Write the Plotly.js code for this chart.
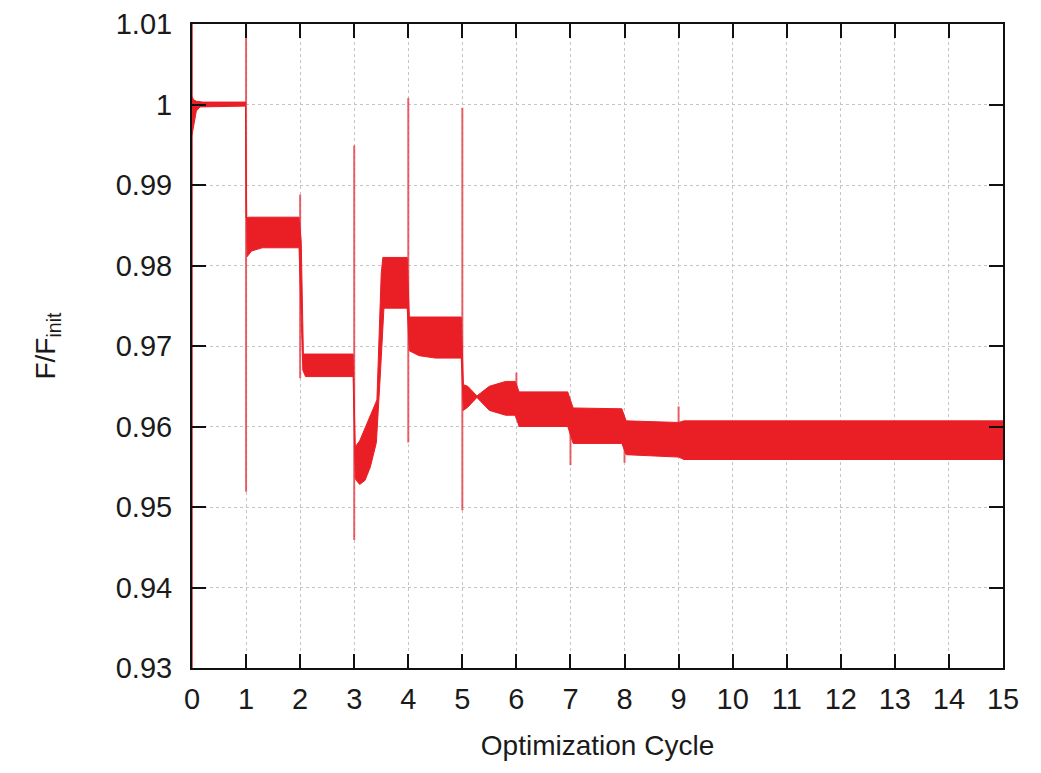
<!DOCTYPE html>
<html>
<head>
<meta charset="utf-8">
<script src="https://cdn.plot.ly/plotly-3.0.1.min.js"></script>
<style>
  html, body { margin: 0; padding: 0; background: #ffffff; }
  #chart { width: 1041px; height: 773px; }
</style>
</head>
<body>
<div id="chart"></div>
<script>
// Upper edge of the oscillation band of F/F_init versus optimization cycle
const upperX = [0.00, 0.03, 0.08, 0.20, 0.99, 1.00, 1.05, 1.98, 2.02, 2.06, 2.98, 3.02, 3.10, 3.20, 3.30, 3.42, 3.50, 3.53, 3.98, 4.02, 4.98, 5.02, 5.10, 5.27, 5.50, 5.80, 5.98, 6.05, 6.95, 7.05, 7.95, 8.03, 9.00, 9.10, 15.00];
const upperY = [1.0010, 1.0006, 1.0004, 1.0003, 1.0003, 0.9859, 0.9860, 0.9860, 0.9830, 0.9690, 0.9690, 0.9575, 0.9582, 0.9598, 0.9612, 0.9633, 0.9790, 0.9810, 0.9810, 0.9736, 0.9736, 0.9652, 0.9650, 0.9638, 0.9650, 0.9656, 0.9656, 0.9643, 0.9643, 0.9623, 0.9622, 0.9607, 0.9605, 0.9607, 0.9607];

// Lower edge of the same band
const lowerX = [0.00, 0.04, 0.08, 0.15, 0.99, 1.02, 1.10, 1.30, 1.98, 2.05, 2.10, 2.98, 3.02, 3.10, 3.20, 3.30, 3.41, 3.48, 3.55, 3.98, 4.02, 4.20, 4.50, 4.98, 5.02, 5.10, 5.27, 5.50, 5.80, 5.98, 6.05, 6.95, 7.05, 7.95, 8.03, 9.00, 9.10, 15.00];
const lowerY = [0.9962, 0.9975, 0.9992, 0.9997, 0.9998, 0.9811, 0.9818, 0.9822, 0.9822, 0.9670, 0.9662, 0.9662, 0.9535, 0.9528, 0.9533, 0.9550, 0.9580, 0.9660, 0.9747, 0.9747, 0.9694, 0.9688, 0.9685, 0.9685, 0.9620, 0.9624, 0.9636, 0.9620, 0.9614, 0.9614, 0.9600, 0.9600, 0.9579, 0.9579, 0.9565, 0.9562, 0.9559, 0.9559];

// Transient spikes at the start of each cycle
const spikeX      = [0, 1, 2, 3, 4, 5, 6, 7, 8, 9];
const spikeTop    = [1.0120, 1.0120, 0.9888, 0.9949, 1.0008, 0.9996, 0.9667, 0.9622, 0.9606, 0.9625];
const spikeBottom = [0.9280, 0.9519, 0.9660, 0.9459, 0.9580, 0.9496, 0.9610, 0.9552, 0.9555, 0.9580];

// Axis ticks
const xTickVals = [0, 1, 2, 3, 4, 5, 6, 7, 8, 9, 10, 11, 12, 13, 14, 15];
const xTickText = ['0', '1', '2', '3', '4', '5', '6', '7', '8', '9', '10', '11', '12', '13', '14', '15'];
const yTickVals = [0.93, 0.94, 0.95, 0.96, 0.97, 0.98, 0.99, 1.00, 1.01];
const yTickText = ['0.93', '0.94', '0.95', '0.96', '0.97', '0.98', '0.99', '1', '1.01'];

// Vertical spike segments joined into one trace, separated by gaps
const segX = [], segY = [];
spikeX.forEach((x, i) => {
  segX.push(x, x, null);
  segY.push(spikeTop[i], spikeBottom[i], null);
});

const bandColor = 'rgb(234,30,37)';

const traces = [
  {
    x: segX, y: segY, mode: 'lines', type: 'scatter',
    line: { color: 'rgba(226,60,70,0.8)', width: 2 },
    connectgaps: false, hoverinfo: 'skip', showlegend: false
  },
  {
    x: upperX, y: upperY, mode: 'lines', type: 'scatter',
    line: { color: bandColor, width: 1 },
    hoverinfo: 'skip', showlegend: false
  },
  {
    x: lowerX, y: lowerY, mode: 'lines', type: 'scatter',
    line: { color: bandColor, width: 1 },
    fill: 'tonexty', fillcolor: bandColor,
    hoverinfo: 'skip', showlegend: false
  }
];

const axisFont = { family: 'Liberation Sans, Arial, sans-serif', size: 29, color: '#1a1a1a' };

const layout = {
  width: 1041, height: 773,
  paper_bgcolor: '#ffffff', plot_bgcolor: '#ffffff',
  margin: { l: 192, r: 38, t: 24, b: 105 },
  showlegend: false,
  xaxis: {
    range: [0, 15],
    tickmode: 'array', tickvals: xTickVals, ticktext: xTickText,
    ticks: 'inside', ticklen: 14, tickwidth: 2, tickcolor: '#111',
    showline: true, linecolor: '#111', linewidth: 2, mirror: 'ticks',
    showgrid: true, gridcolor: '#c4c4c4', gridwidth: 1, griddash: 'dot',
    zeroline: false,
    tickfont: axisFont, ticklabelstandoff: 4,
    title: { text: 'Optimization Cycle', font: { family: axisFont.family, size: 28, color: '#1a1a1a' }, standoff: 22 }
  },
  yaxis: {
    range: [0.93, 1.01],
    tickmode: 'array', tickvals: yTickVals, ticktext: yTickText,
    ticks: 'inside', ticklen: 14, tickwidth: 2, tickcolor: '#111',
    showline: true, linecolor: '#111', linewidth: 2, mirror: 'ticks',
    showgrid: true, gridcolor: '#c4c4c4', gridwidth: 1, griddash: 'dot',
    zeroline: false,
    tickfont: axisFont, ticklabelstandoff: 12,
    title: { text: 'F/F<sub>init</sub>', font: { family: axisFont.family, size: 28, color: '#1a1a1a' }, standoff: 52 }
  }
};

Plotly.newPlot('chart', traces, layout, { staticPlot: true, displayModeBar: false });
</script>
</body>
</html>
